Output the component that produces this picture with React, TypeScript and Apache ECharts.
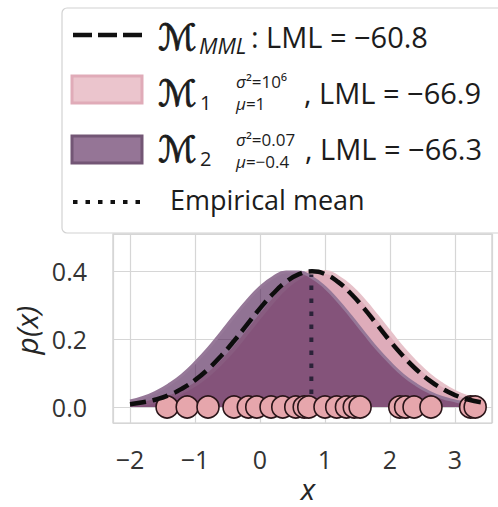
import React, { useEffect, useRef } from "react";
import * as echarts from "echarts";

// Grid of x positions where the three densities are sampled
const CURVE_X = [
  -2.0, -1.8, -1.6, -1.4, -1.2, -1.0, -0.8, -0.6, -0.4, -0.2, 0.0, 0.2, 0.4, 0.6,
  0.8, 1.0, 1.2, 1.4, 1.6, 1.8, 2.0, 2.2, 2.4, 2.6, 2.8, 3.0, 3.2, 3.4,
];

// Predictive density of the MML model (dashed)
const MML_DENSITY = [
  0.008, 0.014, 0.022, 0.035, 0.054, 0.079, 0.111, 0.15, 0.194, 0.242, 0.29, 0.333, 0.368, 0.391,
  0.399, 0.391, 0.368, 0.333, 0.29, 0.242, 0.194, 0.15, 0.111, 0.079, 0.054, 0.035, 0.022, 0.014,
];

// Model 1: broad prior (pink)
const M1_DENSITY = [
  0.006, 0.01, 0.018, 0.028, 0.044, 0.066, 0.094, 0.13, 0.171, 0.218, 0.266, 0.312, 0.352, 0.381,
  0.397, 0.397, 0.381, 0.352, 0.312, 0.266, 0.218, 0.171, 0.13, 0.094, 0.066, 0.044, 0.028, 0.018,
];

// Model 2: narrow prior centred at -0.4 (purple)
const M2_DENSITY = [
  0.018, 0.028, 0.044, 0.066, 0.094, 0.13, 0.171, 0.218, 0.266, 0.312, 0.352, 0.381, 0.397, 0.397,
  0.381, 0.352, 0.312, 0.266, 0.218, 0.171, 0.13, 0.094, 0.066, 0.044, 0.028, 0.018, 0.01, 0.006,
];

// Observed samples, drawn on the x axis
const SAMPLES = [
  -1.43, -1.12, -0.8, -0.4, -0.18, -0.05, 0.17, 0.35, 0.55, 0.68, 0.75, 1.0, 1.18, 1.33, 1.45,
  1.54, 2.15, 2.24, 2.37, 2.63, 3.24, 3.31,
];

const EMPIRICAL_MEAN = 0.79;
const MEAN_LINE_TOP = 0.39;

const X_TICKS = [-2, -1, 0, 1, 2, 3];
const Y_TICKS = [0, 0.2, 0.4];

const LML_MML = "LML = \u221260.8";
const LML_M1 = ", LML = \u221266.9";
const LML_M2 = ", LML = \u221266.3";
const MEAN_LABEL = "Empirical mean";

const SANS = '"Open Sans", "DejaVu Sans", sans-serif';
const SCRIPT = '"DejaVu Sans", "DejaVu Serif", serif';
const INK = "#1c1c1c";

function pairs(xs: number[], ys: number[]) {
  return xs.map((x, i) => [x, ys[i]]);
}

function fmtMinus(v: number, digits: number) {
  const s = Math.abs(v).toFixed(digits);
  return v < -1e-9 ? "\u2212" + s : s;
}

function legendText(x: number, y: number, text: string, size: number, extra: any = {}) {
  return {
    type: "text",
    x,
    y,
    z: 101,
    style: {
      text,
      fill: INK,
      font: `${extra.italic ? "italic " : ""}${size}px ${extra.family || SANS}`,
      align: "left",
      verticalAlign: "middle",
      ...(extra.lineHeight ? { lineHeight: extra.lineHeight } : {}),
      ...(extra.bold ? { stroke: INK, lineWidth: extra.bold } : {}),
      ...(extra.rich ? { rich: extra.rich } : {}),
    },
  };
}

export default function App() {
  const ref = useRef<HTMLDivElement>(null);

  useEffect(() => {
    if (!ref.current) return;
    const chart = echarts.init(ref.current, undefined, { renderer: "svg" });

    const small = {
      g: { fontStyle: "italic", fontSize: 17, fontFamily: SANS, fill: INK, lineHeight: 17 },
      n: { fontSize: 17, fontFamily: SANS, fill: INK, lineHeight: 17 },
    };

    chart.setOption({
      animation: false,
      backgroundColor: "#ffffff",
      grid: {
        left: 113,
        right: 6,
        top: 234,
        bottom: 84,
        show: true,
        borderColor: "#cccccc",
        borderWidth: 1.2,
        containLabel: false,
        outerBoundsMode: "none",
      },
      xAxis: {
        type: "value",
        min: -2.2615,
        max: 3.569,
        minInterval: 1,
        maxInterval: 1,
        axisLine: { show: false },
        axisTick: { show: false },
        splitLine: { show: true, lineStyle: { color: "#d6d6d6", width: 1.2 } },
        axisLabel: {
          margin: 23,
          color: "#333333",
          fontSize: 25,
          fontFamily: SANS,
          showMinLabel: true,
          showMaxLabel: true,
          formatter: (v: number) => {
            const t = X_TICKS.find((k) => Math.abs(k - v) < 1e-6);
            return t === undefined ? "" : fmtMinus(t, 0);
          },
        },
      },
      yAxis: {
        type: "value",
        min: -0.0471,
        max: 0.5088,
        minInterval: 0.2,
        maxInterval: 0.2,
        axisLine: { show: false },
        axisTick: { show: false },
        splitLine: { show: true, lineStyle: { color: "#d6d6d6", width: 1.2 } },
        axisLabel: {
          margin: 26,
          color: "#333333",
          fontSize: 25,
          fontFamily: SANS,
          formatter: (v: number) => {
            const t = Y_TICKS.find((k) => Math.abs(k - v) < 1e-6);
            return t === undefined ? "" : t.toFixed(1);
          },
        },
      },
      series: [
        {
          name: "M1",
          type: "line",
          data: pairs(CURVE_X, M1_DENSITY),
          smooth: true,
          showSymbol: false,
          z: 2,
          lineStyle: { color: "#e7c2ca", width: 4 },
          areaStyle: { color: "#deacba", opacity: 1, origin: "auto" },
        },
        {
          name: "M2",
          type: "line",
          data: pairs(CURVE_X, M2_DENSITY),
          smooth: true,
          showSymbol: false,
          z: 3,
          lineStyle: { color: "#967898", width: 3 },
          areaStyle: { color: "rgb(78,29,82)", opacity: 0.62, origin: "auto" },
        },
        {
          name: "mean",
          type: "line",
          data: [
            [EMPIRICAL_MEAN, 0],
            [EMPIRICAL_MEAN, MEAN_LINE_TOP],
          ],
          showSymbol: false,
          z: 4,
          lineStyle: { color: "#2b2238", width: 4, type: [4.5, 8.5] },
        },
        {
          name: "samples",
          type: "scatter",
          data: SAMPLES.map((x) => [x, 0]),
          symbol: "circle",
          symbolSize: 22,
          z: 5,
          itemStyle: { color: "#e6a6ac", borderColor: "#2a1519", borderWidth: 1.6, opacity: 1 },
        },
        {
          name: "MML",
          type: "line",
          data: pairs(CURVE_X, MML_DENSITY),
          smooth: true,
          showSymbol: false,
          z: 6,
          lineStyle: { color: "#0d0d0d", width: 4.5, type: [16, 7] },
        },
      ],
      graphic: [
        // axis names
        {
          type: "text",
          x: 26,
          y: 330,
          rotation: Math.PI / 2,
          style: {
            text: "p(x)",
            font: `italic 30px ${SANS}`,
            fill: "#262626",
            align: "center",
            verticalAlign: "middle",
          },
        },
        {
          type: "text",
          x: 308,
          y: 488,
          style: {
            text: "x",
            font: `italic 30px ${SANS}`,
            lineHeight: 30,
            fill: "#262626",
            align: "center",
            verticalAlign: "middle",
          },
        },
        // legend frame
        {
          type: "rect",
          z: 100,
          shape: { x: 62, y: 8, width: 470, height: 225, r: 5 },
          style: { fill: "#ffffff", stroke: "#d2d2d2", lineWidth: 1.2 },
        },
        // legend handles
        {
          type: "line",
          z: 101,
          shape: { x1: 73, y1: 35, x2: 142, y2: 35 },
          style: { stroke: "#111111", lineWidth: 4.5, lineDash: [19, 6] },
        },
        {
          type: "rect",
          z: 101,
          shape: { x: 72, y: 76, width: 70, height: 27 },
          style: { fill: "#ebc5cd", stroke: "#e0abb8", lineWidth: 3 },
        },
        {
          type: "rect",
          z: 101,
          shape: { x: 72, y: 136, width: 70, height: 27 },
          style: { fill: "#957596", stroke: "#735675", lineWidth: 3 },
        },
        {
          type: "line",
          z: 101,
          shape: { x1: 73, y1: 202, x2: 140, y2: 202 },
          style: { stroke: "#111111", lineWidth: 4, lineDash: [4.5, 8] },
        },
        // legend labels
        legendText(158, 37, "\u2133", 36, { family: SCRIPT, bold: 0.9 }),
        legendText(199, 45, "MML", 22, { italic: true, lineHeight: 22 }),
        legendText(251, 36, ":", 29),
        legendText(266, 36, LML_MML, 29),

        legendText(158, 93, "\u2133", 36, { family: SCRIPT, bold: 0.9 }),
        legendText(200, 102, "1", 20),
        legendText(236, 81, "{g|\u03c3}{n|\u00b2=10\u2076}", 17, { rich: small, lineHeight: 17 }),
        legendText(236, 103, "{g|\u03bc}{n|=1}", 17, { rich: small, lineHeight: 17 }),
        legendText(304, 92, LML_M1, 29),

        legendText(158, 149, "\u2133", 36, { family: SCRIPT, bold: 0.9 }),
        legendText(200, 158, "2", 20),
        legendText(236, 139, "{g|\u03c3}{n|\u00b2=0.07}", 17, { rich: small, lineHeight: 17 }),
        legendText(236, 161, "{g|\u03bc}{n|=\u22120.4}", 17, { rich: small, lineHeight: 17 }),
        legendText(305, 148, LML_M2, 29),

        legendText(170, 199, MEAN_LABEL, 27),
      ],
    });

    return () => chart.dispose();
  }, []);

  return (
    <div
      ref={ref}
      style={{ position: "fixed", left: 0, top: 0, width: 498, height: 507, background: "#fff" }}
    />
  );
}
